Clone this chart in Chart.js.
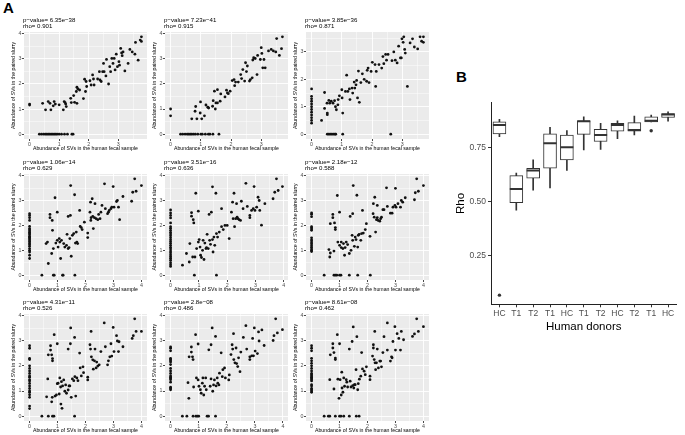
<!DOCTYPE html>
<html><head><meta charset="utf-8">
<script src="https://cdn.jsdelivr.net/npm/chart.js@4.4.0/dist/chart.umd.min.js"></script>
<style>
body{margin:0;background:#fff;}
#wrap{position:relative;width:685px;height:435px;overflow:hidden;font-family:"Liberation Sans",Arial,sans-serif;}
canvas{position:absolute;}
.lab{position:absolute;font-weight:bold;font-size:15px;color:#000;line-height:15px;}
</style></head><body><div id="wrap">
<div class="lab" style="left:3px;top:0px">A</div>
<div class="lab" style="left:456px;top:69px">B</div>
</div>
<script>
// ---------- Panel A data (x = abundance in human fecal sample, y = abundance in paired slurry) ----------
const pValueLabels = ['6.35e−38','7.23e−41','3.85e−36','1.06e−14','3.51e−16','2.18e−12','4.31e−11','2.8e−08','8.61e−08'];
const rhoLabels = ['0.901','0.915','0.871','0.629','0.636','0.588','0.526','0.486','0.462'];

const panel1 = [[0,1.2],[0,1.16],[0.44,1.23],[0.54,0.97],[0.63,1.3],[0.69,1.23],[0.72,0.97],[0.8,1.13],[0.83,1.3],[0.87,1.2],[1.0,1.17],[1.14,0.97],[1.17,1.3],[1.2,1.26],[1.24,1.1],[1.22,1.2],[1.39,1.43],[1.41,1.26],[1.49,1.54],[1.52,1.27],[1.58,1.7],[1.6,1.87],[1.63,1.8],[1.69,1.76],[1.6,1.23],[1.82,1.42],[1.86,2.19],[1.89,1.7],[1.91,2.1],[1.93,1.9],[2.04,2.13],[2.08,1.96],[2.13,2.36],[2.16,2.2],[2.18,1.96],[2.3,2.2],[2.36,2.49],[2.38,2.16],[2.42,2.1],[2.47,2.49],[2.5,2.82],[2.52,2.49],[2.58,2.32],[2.6,2.98],[2.67,2.0],[2.71,2.69],[2.74,2.49],[2.78,3.02],[2.82,2.82],[2.86,3.02],[2.89,2.56],[2.93,3.19],[2.97,2.69],[3.02,2.89],[3.04,2.75],[3.08,3.42],[3.11,3.24],[3.13,3.13],[3.16,3.28],[3.22,2.52],[3.33,2.82],[3.39,3.38],[3.47,3.28],[3.56,3.19],[3.58,3.66],[3.67,2.95],[3.74,3.75],[3.78,3.88],[3.78,3.7],
[0.33,0],[0.4,0],[0.47,0],[0.53,0],[0.58,0],[0.63,0],[0.68,0],[0.73,0],[0.78,0],[0.83,0],[0.88,0],[0.93,0],[1.0,0],[1.08,0],[1.18,0],[1.28,0],[1.43,0],[1.47,0]];

const panel2 = [[0,1.0],[0,0.73],[0.7,0.61],[0.81,0.91],[0.83,1.1],[0.87,0.61],[0.98,0.84],[0.99,1.28],[1.03,0.61],[1.12,0.73],[1.17,1.16],[1.23,1.07],[1.26,1.04],[1.39,1.11],[1.41,1.33],[1.45,1.71],[1.48,1.0],[1.5,1.24],[1.55,1.24],[1.55,1.77],[1.66,1.6],[1.64,1.31],[1.8,1.48],[1.85,1.75],[1.88,1.64],[1.91,1.61],[1.97,1.71],[2.04,2.13],[2.1,2.17],[2.12,1.93],[2.15,2.07],[2.24,2.07],[2.32,2.37],[2.35,2.21],[2.39,2.57],[2.45,2.11],[2.48,2.84],[2.51,2.49],[2.54,2.71],[2.61,2.11],[2.64,2.17],[2.7,2.24],[2.72,2.95],[2.75,3.04],[2.8,3.01],[2.86,2.37],[2.88,3.13],[2.97,2.97],[3.0,3.44],[3.02,3.21],[3.05,2.64],[3.09,2.97],[3.13,2.64],[3.24,3.31],[3.33,3.37],[3.4,3.31],[3.48,3.27],[3.51,3.8],[3.6,3.13],[3.67,3.4],[3.7,3.87],
[0.33,0],[0.4,0],[0.48,0],[0.55,0],[0.6,0],[0.65,0],[0.7,0],[0.76,0],[0.82,0],[0.9,0],[1.0,0],[1.05,0],[1.15,0],[1.25,0],[1.3,0],[1.4,0],[1.6,0]];

const panel3 = [[0,0.4],[0,0.5],[0,0.6],[0,0.7],[0,0.8],[0,0.9],[0,1.0],[0,1.1],[0,1.2],[0,1.29],[0,1.38],[0,1.65],
[0.33,0.5],[0.43,1.52],[0.43,0.94],[0.51,1.13],[0.52,0.77],[0.52,0.71],[0.57,1.23],[0.6,1.13],[0.65,1.2],[0.71,1.13],[0.76,1.22],[0.79,1.0],[0.82,0.89],[0.87,1.07],[0.88,1.26],[0.92,1.4],[1.0,1.62],[1.01,1.32],[1.03,0.77],[1.12,1.56],[1.16,2.15],[1.2,1.56],[1.25,1.65],[1.27,1.26],[1.34,1.68],[1.36,1.5],[1.41,1.9],[1.43,1.68],[1.47,1.8],[1.49,1.96],[1.52,1.32],[1.55,2.3],[1.58,1.16],[1.63,1.88],[1.68,2.2],[1.74,2.0],[1.82,1.93],[1.84,2.33],[1.87,2.41],[1.9,1.88],[1.97,2.29],[2.01,2.62],[2.1,2.54],[2.12,1.74],[2.14,2.29],[2.23,2.54],[2.32,2.41],[2.36,2.83],[2.39,2.57],[2.45,2.91],[2.48,2.7],[2.53,2.91],[2.66,2.68],[2.72,3.0],[2.77,2.7],[2.83,2.6],[2.88,3.21],[2.94,2.78],[2.97,2.78],[2.99,3.48],[3.03,3.35],[3.05,3.55],[3.08,3.09],[3.1,2.96],[3.17,1.74],[3.26,3.33],[3.34,3.48],[3.4,3.18],[3.51,3.11],[3.59,3.55],[3.64,3.39],[3.7,3.35],[3.7,3.55],
[0.52,0],[0.57,0],[0.62,0],[0.67,0],[0.72,0],[0.77,0],[0.8,0],[1.03,0],[2.62,0]];

const panel4 = [[0,0.67],[0,0.8],[0,0.93],[0,1.0],[0,1.07],[0,1.16],[0,1.22],[0,1.27],[0,1.33],[0,1.37],[0,1.42],[0,1.47],[0,1.52],[0,1.56],[0,1.62],[0,1.67],[0,1.72],[0,1.77],[0,1.82],[0,1.87],[0,1.96],[0,2.2],[0,2.31],[0,2.4],[0,2.47],
[0.44,0],[0.59,1.27],[0.64,1.33],[0.67,0.47],[0.73,2.44],[0.73,2.31],[0.79,0.87],[0.81,2.2],[0.82,1.8],[0.85,0],[0.85,1.07],[0.88,0],[0.91,3.11],[0.94,1.29],[0.99,2.53],[0.99,1.4],[1.02,1.13],[1.06,1.47],[1.08,1.33],[1.11,0.67],[1.14,1.4],[1.18,0],[1.2,0],[1.22,1.27],[1.26,1.13],[1.32,1.2],[1.34,1.64],[1.38,2.36],[1.38,1.07],[1.41,1.11],[1.44,1.47],[1.46,2.4],[1.47,3.6],[1.49,0.76],[1.53,1.6],[1.58,1.67],[1.61,3.23],[1.62,0],[1.64,1.29],[1.67,1.73],[1.69,1.33],[1.72,1.27],[1.79,2.6],[1.81,1.96],[1.85,1.91],[1.88,1.83],[1.96,2.13],[2.08,1.69],[2.08,1.51],[2.16,2.53],[2.18,2.93],[2.19,2.2],[2.2,2.31],[2.24,3.07],[2.26,2.36],[2.28,1.87],[2.32,2.31],[2.34,2.87],[2.38,2.27],[2.44,2.23],[2.47,2.44],[2.52,2.27],[2.55,2.53],[2.59,2.8],[2.68,3.67],[2.71,2.67],[2.79,2.47],[2.82,2.53],[2.85,2.6],[2.91,2.67],[2.94,2.73],[2.99,3.56],[3.02,2.73],[3.11,2.96],[3.14,3.0],[3.18,2.73],[3.22,2.23],[3.34,3.16],[3.65,2.97],[3.69,3.33],[3.76,3.87],[3.81,3.37],[4.0,3.6]];

const panel5 = [[0,0.35],[0,0.42],[0,0.5],[0,0.6],[0,0.68],[0,0.75],[0,0.82],[0,0.9],[0,0.97],[0,1.05],[0,1.12],[0,1.2],[0,1.28],[0,1.35],[0,1.42],[0,1.5],[0,1.58],[0,1.65],[0,1.72],[0,1.8],[0,1.88],[0,1.95],[0,2.1],[0,2.3],[0,2.4],[0,2.5],[0,2.62],
[0.42,0.4],[0.56,0.87],[0.66,0.53],[0.68,1.27],[0.74,2.51],[0.74,2.37],[0.78,0.73],[0.8,2.23],[0.82,2.1],[0.84,0],[0.86,0.73],[0.89,3.29],[0.92,1.07],[0.98,2.57],[0.98,1.33],[1.01,1.43],[1.04,1.13],[1.06,0.8],[1.09,0.71],[1.13,1.0],[1.15,1.4],[1.18,0.63],[1.21,1.29],[1.25,1.07],[1.27,1.11],[1.29,1.64],[1.33,1.07],[1.36,2.44],[1.38,1.4],[1.41,1.24],[1.44,2.53],[1.48,3.55],[1.48,1.43],[1.5,0.93],[1.53,1.53],[1.56,1.2],[1.6,3.29],[1.62,0],[1.62,1.67],[1.66,1.53],[1.72,1.73],[1.8,2.67],[1.8,1.95],[1.86,1.83],[1.92,2.0],[2.0,2.0],[2.07,1.47],[2.15,2.53],[2.19,2.93],[2.21,2.27],[2.24,3.29],[2.26,1.95],[2.3,2.27],[2.33,2.87],[2.35,2.33],[2.38,2.27],[2.42,2.23],[2.47,2.2],[2.5,2.97],[2.56,2.67],[2.66,3.69],[2.71,2.76],[2.8,2.4],[2.8,2.31],[2.86,2.6],[2.92,2.67],[2.95,3.56],[2.98,2.6],[3.04,2.73],[3.09,3.13],[3.13,3.0],[3.15,2.6],[3.21,2.01],[3.33,2.87],[3.62,3.07],[3.68,3.33],[3.74,3.87],[3.8,3.4],[3.95,3.56]];

const panel6 = [[0,0.95],[0,1.0],[0,1.05],[0,1.12],[0,1.18],[0,1.25],[0,1.3],[0,1.37],[0,1.42],[0,1.5],[0,1.8],[0,1.85],[0,1.9],[0,1.95],[0,2.35],[0,2.45],[0,2.5],
[0.45,0],[0.8,0],[0.85,0],[0.9,0],[1.0,0],[1.05,0],[1.35,0],[1.65,0],[2.1,0],
[0.62,1.03],[0.65,0.73],[0.67,0.89],[0.67,2.07],[0.76,2.31],[0.76,2.44],[0.8,0.97],[0.82,2.1],[0.85,1.91],[0.85,1.83],[0.92,3.2],[0.94,1.33],[1.0,2.53],[1.0,1.2],[1.06,1.33],[1.06,1.11],[1.12,1.07],[1.14,1.27],[1.18,0.8],[1.2,1.11],[1.24,1.33],[1.29,1.23],[1.35,0.87],[1.38,2.36],[1.41,1.0],[1.45,1.6],[1.47,2.47],[1.47,1.4],[1.49,3.6],[1.53,1.16],[1.56,1.53],[1.59,1.43],[1.62,3.21],[1.65,1.13],[1.67,1.6],[1.7,1.64],[1.76,1.4],[1.79,1.67],[1.82,2.6],[1.85,1.69],[1.92,1.83],[1.96,2.07],[2.09,1.56],[2.2,2.47],[2.21,2.87],[2.24,2.33],[2.26,3.13],[2.29,1.73],[2.32,2.23],[2.35,2.31],[2.35,2.8],[2.38,2.2],[2.44,2.17],[2.47,2.27],[2.5,2.33],[2.55,2.63],[2.59,2.63],[2.68,3.51],[2.71,2.76],[2.82,2.49],[2.88,2.49],[2.91,2.73],[2.98,2.8],[3.0,3.49],[3.02,2.73],[3.09,2.87],[3.18,2.73],[3.21,3.0],[3.26,2.93],[3.35,3.11],[3.68,3.03],[3.71,3.31],[3.76,3.87],[3.82,3.37],[4.0,3.6]];

const panel7 = [[0,0.3],[0,0.4],[0,0.75],[0,0.85],[0,0.95],[0,1.0],[0,1.1],[0,1.2],[0,1.3],[0,1.4],[0,1.45],[0,1.55],[0,1.6],[0,1.7],[0,1.8],[0,1.9],[0,2.0],[0,2.25],[0,2.3],[0,2.7],[0,2.8],
[0.44,0],[0.67,0],[0.82,0],[0.87,0],[1.61,0],
[0.61,0.77],[0.65,1.48],[0.67,2.44],[0.75,2.8],[0.75,2.63],[0.79,2.44],[0.79,0.57],[0.81,0.75],[0.82,2.2],[0.82,2.29],[0.88,3.24],[0.91,0.8],[0.96,0.84],[0.99,2.88],[0.99,1.29],[1.02,1.31],[1.06,0.88],[1.08,1.52],[1.11,1.16],[1.12,0.48],[1.14,1.37],[1.16,0.31],[1.18,1.2],[1.22,1.44],[1.26,0.99],[1.29,1.24],[1.32,0.91],[1.38,2.67],[1.38,1.04],[1.41,1.2],[1.44,1.2],[1.46,2.88],[1.47,3.51],[1.49,0.75],[1.53,1.48],[1.58,1.41],[1.61,3.13],[1.62,1.57],[1.65,0.8],[1.69,1.52],[1.73,1.41],[1.79,2.51],[1.81,1.92],[1.85,1.6],[1.91,1.96],[1.93,1.73],[2.08,1.44],[2.08,1.55],[2.16,2.84],[2.18,2.67],[2.2,3.37],[2.21,2.36],[2.26,2.24],[2.28,1.87],[2.32,2.2],[2.34,2.67],[2.38,1.92],[2.4,2.15],[2.44,1.99],[2.49,2.04],[2.55,2.57],[2.67,3.71],[2.71,2.76],[2.79,2.04],[2.82,2.2],[2.87,2.36],[2.91,2.88],[2.94,2.39],[2.99,3.53],[3.02,2.57],[3.11,3.2],[3.14,2.99],[3.2,2.96],[3.18,2.57],[3.34,2.76],[3.67,3.09],[3.71,3.2],[3.76,3.87],[3.81,3.37],[4.0,3.37]];

const panel8 = [[0,1.05],[0,1.1],[0,1.15],[0,1.35],[0,1.45],[0,1.5],[0,1.55],[0,1.6],[0,1.7],[0,1.8],[0,1.9],[0,2.05],[0,2.15],[0,2.2],[0,2.25],[0,2.3],[0,2.6],[0,2.7],[0,2.75],
[0.42,0],[0.58,0],[0.8,0],[0.9,0],[0.95,0],[1.0,0],[1.3,0],[1.35,0],[1.6,0],
[0.62,1.33],[0.65,0.71],[0.66,2.36],[0.74,2.55],[0.74,2.75],[0.78,2.36],[0.8,2.25],[0.82,1.16],[0.89,3.24],[0.92,1.52],[0.98,2.87],[0.98,1.44],[1.01,1.19],[1.06,1.05],[1.09,0.91],[1.13,1.31],[1.15,1.52],[1.18,0.84],[1.21,1.19],[1.25,1.52],[1.27,1.05],[1.36,2.64],[1.41,1.19],[1.44,2.84],[1.44,1.48],[1.48,3.51],[1.5,0.99],[1.53,1.24],[1.56,1.44],[1.6,3.17],[1.62,1.2],[1.66,1.52],[1.68,1.31],[1.72,1.24],[1.74,1.71],[1.8,2.52],[1.84,1.57],[1.86,1.85],[1.92,1.92],[1.95,1.52],[2.07,1.44],[2.09,1.64],[2.15,2.45],[2.19,2.84],[2.21,2.67],[2.24,3.28],[2.25,2.25],[2.29,2.12],[2.33,2.71],[2.35,2.09],[2.39,1.97],[2.42,2.32],[2.47,1.77],[2.5,2.55],[2.59,3.13],[2.68,3.6],[2.71,2.67],[2.82,2.25],[2.82,2.36],[2.89,2.4],[2.92,3.09],[2.95,2.4],[2.98,3.51],[3.01,2.59],[3.09,2.49],[3.13,3.35],[3.15,2.99],[3.25,3.43],[3.33,2.81],[3.65,3.01],[3.68,3.2],[3.74,3.87],[3.8,3.31],[3.98,3.44]];

const panel9 = [[0,0.95],[0,1.0],[0,1.05],[0,1.1],[0,1.2],[0,1.25],[0,1.4],[0,1.45],[0,1.5],[0,1.55],[0,1.6],[0,1.65],[0,1.7],[0,1.8],[0,1.9],[0,2.0],[0,2.1],[0,2.2],[0,2.3],[0,2.6],[0,2.7],[0,2.8],
[0.45,0],[0.6,0],[0.65,0],[0.85,0],[1.0,0],[1.05,0],[1.15,0],[1.35,0],[1.6,0],[1.7,0],
[0.65,1.45],[0.67,2.44],[0.76,2.88],[0.76,2.71],[0.8,2.53],[0.8,1.08],[0.85,2.31],[0.85,2.25],[0.92,3.24],[0.94,1.47],[0.98,0.71],[1.0,2.88],[1.02,1.45],[1.06,0.84],[1.08,1.75],[1.09,1.12],[1.12,0.95],[1.15,1.52],[1.18,1.19],[1.24,1.45],[1.26,1.35],[1.29,1.16],[1.35,2.67],[1.38,1.39],[1.41,1.16],[1.45,2.97],[1.47,1.21],[1.49,3.55],[1.51,1.12],[1.53,1.25],[1.56,1.25],[1.59,1.85],[1.62,3.16],[1.65,1.05],[1.67,1.29],[1.71,1.47],[1.76,1.59],[1.79,2.53],[1.82,1.88],[1.88,1.79],[1.92,1.65],[1.96,1.96],[2.09,1.45],[2.09,1.59],[2.18,2.39],[2.21,2.84],[2.21,2.71],[2.24,2.25],[2.26,3.37],[2.27,2.12],[2.29,1.85],[2.32,2.12],[2.35,2.67],[2.39,1.92],[2.44,2.19],[2.47,2.19],[2.5,1.96],[2.55,2.53],[2.59,3.16],[2.71,3.71],[2.71,2.63],[2.82,2.19],[2.86,2.36],[2.88,2.32],[2.91,2.97],[2.98,3.56],[3.0,2.63],[3.06,3.28],[3.12,3.09],[3.18,2.63],[3.21,3.37],[3.29,3.04],[3.61,3.17],[3.68,3.27],[3.76,3.87],[3.82,3.37],[4.0,3.56]];

const panels = [panel1,panel2,panel3,panel4,panel5,panel6,panel7,panel8,panel9];

// ---------- Panel B data ----------
const donorLabels = ['HC','T1','T2','T1','HC','T1','T2','HC','T2','T1','HC'];
const rhoWhiskerLow  = [0.800,0.461,0.553,0.563,0.644,0.739,0.742,0.791,0.808,0.869,0.872];
const rhoQ1          = [0.813,0.495,0.608,0.655,0.693,0.811,0.778,0.826,0.826,0.869,0.889];
const rhoMedian      = [0.854,0.559,0.644,0.770,0.752,0.872,0.808,0.854,0.831,0.874,0.903];
const rhoQ3          = [0.869,0.620,0.654,0.813,0.808,0.874,0.834,0.862,0.865,0.892,0.907];
const rhoWhiskerHigh = [0.880,0.632,0.693,0.843,0.828,0.892,0.862,0.874,0.895,0.900,0.915];
const rhoOutliers    = [0.068,null,null,null,null,null,null,null,null,0.828,null];
const rhoTicks = [0.25,0.50,0.75];

// ---------- drawing ----------
const wrap = document.getElementById('wrap');
const FONT = '"Liberation Sans", Arial, sans-serif';

const panelBg = {
  id:'panelBg',
  beforeDraw(chart){
    const a = chart.chartArea, ctx = chart.ctx;
    ctx.save(); ctx.fillStyle = '#EBEBEB';
    ctx.fillRect(a.left, a.top, a.right - a.left, a.bottom - a.top);
    ctx.restore();
  }
};
const panelTitle = {
  id:'panelTitle',
  afterDraw(chart, args, opts){
    const a = chart.chartArea, ctx = chart.ctx;
    ctx.save(); ctx.fillStyle = '#000'; ctx.font = '6.1px ' + FONT; ctx.textBaseline = 'middle';
    ctx.fillText(opts.line1, a.left - 1, a.top - 12);
    ctx.fillText(opts.line2, a.left - 1, a.top - 5.8);
    ctx.restore();
  }
};

const colLeft = [24, 165, 306];
const rowTop = [32, 174, 313.5];
const rowH = [107, 106, 107.5];
const plotW = 123;

function expandRange(vals){
  const mn = Math.min(...vals), mx = Math.max(...vals), p = (mx - mn) * 0.05;
  return [mn - p, mx + p];
}
function halfTicks(scale){
  const out = [];
  for (let v = Math.ceil(scale.min * 2) / 2; v <= scale.max + 1e-9; v += 0.5) out.push({value: v});
  scale.ticks = out;
}
const isMajor = v => Math.abs(v - Math.round(v)) < 1e-6;

function makeScatter(i){
  const c = i % 3, r = Math.floor(i / 3);
  const pts = panels[i];
  const padTop = 32, xh = 13;
  const W = 24 + plotW + 2, H = padTop + rowH[r] + xh;
  const cv = document.createElement('canvas');
  cv.width = W; cv.height = H;
  cv.style.left = (colLeft[c] - 24) + 'px'; cv.style.top = (rowTop[r] - padTop) + 'px';
  cv.style.width = W + 'px'; cv.style.height = H + 'px';
  wrap.appendChild(cv);
  const xr = expandRange(pts.map(p => p[0]));
  const yr = expandRange(pts.map(p => p[1]));
  const gridOpts = {
    color: '#FFFFFF',
    lineWidth: ctx => (ctx.tick && isMajor(ctx.tick.value)) ? 0.9 : 0.45,
    tickColor: ctx => (ctx.tick && isMajor(ctx.tick.value)) ? '#333333' : 'rgba(0,0,0,0)',
    tickLength: 2, drawOnChartArea: true, drawTicks: true
  };
  const tickOpts = {
    font: {size: 5.3, family: FONT}, color: '#4D4D4D', padding: 0.5, maxRotation: 0, autoSkip: false,
    callback: v => isMajor(v) ? String(Math.round(v)) : ''
  };
  new Chart(cv, {
    type: 'scatter',
    data: {datasets: [{data: pts.map(p => ({x: p[0], y: p[1]})), pointRadius: 1.4, pointBackgroundColor: '#111', pointBorderWidth: 0, pointHoverRadius: 1.4}]},
    options: {
      responsive: false, animation: false, devicePixelRatio: 1,
      layout: {padding: {top: padTop, right: 2, left: 0, bottom: 0}},
      plugins: {legend: {display: false}, tooltip: {enabled: false},
        panelTitle: {line1: 'p−value= ' + pValueLabels[i], line2: 'rho= ' + rhoLabels[i]}},
      scales: {
        x: {type: 'linear', min: xr[0], max: xr[1], afterBuildTicks: halfTicks,
          afterFit: s => { s.height = xh; },
          grid: gridOpts, border: {display: false}, ticks: tickOpts,
          title: {display: true, text: 'Abundance of SVs in the human fecal sample', color: '#000',
            font: {size: 5.2, family: FONT}, padding: {top: 0, bottom: 0.3}}},
        y: {type: 'linear', min: yr[0], max: yr[1], afterBuildTicks: halfTicks,
          afterFit: s => { s.width = 24; },
          grid: gridOpts, border: {display: false}, ticks: tickOpts,
          title: {display: true, text: 'Abundance of SVs in the paired slurry', color: '#000',
            font: {size: 5.2, family: FONT}, padding: {top: 10, bottom: 0}}}
      }
    },
    plugins: [panelBg, panelTitle]
  });
}
for (let i = 0; i < 9; i++) makeScatter(i);

// ---------- Panel B boxplot ----------
(function(){
  const cv = document.createElement('canvas');
  const W = 245, H = 250;
  cv.width = W; cv.height = H;
  cv.style.left = '440px'; cv.style.top = '90px';
  cv.style.width = W + 'px'; cv.style.height = H + 'px';
  wrap.appendChild(cv);
  const allVals = rhoWhiskerLow.concat(rhoWhiskerHigh, rhoOutliers.filter(v => v !== null));
  const yr = expandRange(allVals);
  new Chart(cv, {
    type: 'bar',
    data: {
      labels: donorLabels,
      datasets: [
        {type: 'line', data: rhoMedian, showLine: false, pointStyle: 'line', pointRadius: 6.5,
          pointBorderWidth: 2, pointBorderColor: '#333', pointHoverRadius: 6.5},
        {type: 'line', data: rhoOutliers, showLine: false, pointStyle: 'circle', pointRadius: 1.7,
          pointBackgroundColor: '#333', pointBorderWidth: 0, pointHoverRadius: 1.7},
        {data: rhoQ1.map((q, i) => [q, rhoQ3[i]]), grouped: false, barThickness: 13,
          backgroundColor: '#FFFFFF', borderColor: '#333', borderWidth: 1, borderSkipped: false},
        {data: rhoWhiskerLow.map((l, i) => [l, rhoWhiskerHigh[i]]), grouped: false, barThickness: 1,
          backgroundColor: '#333', borderWidth: 0}
      ]
    },
    options: {
      responsive: false, animation: false, devicePixelRatio: 1,
      layout: {padding: {top: 12.7, right: 0, left: 0, bottom: 0}},
      plugins: {legend: {display: false}, tooltip: {enabled: false}},
      scales: {
        x: {type: 'category', offset: true,
          afterFit: s => { s.height = 35.7; },
          grid: {display: true, drawOnChartArea: false, drawTicks: true, tickLength: 3, tickColor: '#333', offset: false},
          border: {display: true, color: '#222', width: 1},
          ticks: {font: {size: 8.5, family: FONT}, color: '#4D4D4D', padding: 1.5, maxRotation: 0, autoSkip: false},
          title: {display: true, text: 'Human donors', color: '#000', font: {size: 11.5, family: FONT}, padding: {top: 0, bottom: 6}}},
        y: {type: 'linear', min: yr[0], max: yr[1],
          afterBuildTicks: s => { s.ticks = rhoTicks.map(v => ({value: v})); },
          afterFit: s => { s.width = 51; },
          grid: {display: true, drawOnChartArea: false, drawTicks: true, tickLength: 3, tickColor: '#333'},
          border: {display: true, color: '#222', width: 1},
          ticks: {font: {size: 8.5, family: FONT}, color: '#4D4D4D', padding: 2, callback: v => v.toFixed(2)},
          title: {display: true, text: 'Rho', color: '#000', font: {size: 11.5, family: FONT}, padding: {top: 13.5, bottom: 0}}}
      }
    }
  });
})();
</script>
</body></html>
